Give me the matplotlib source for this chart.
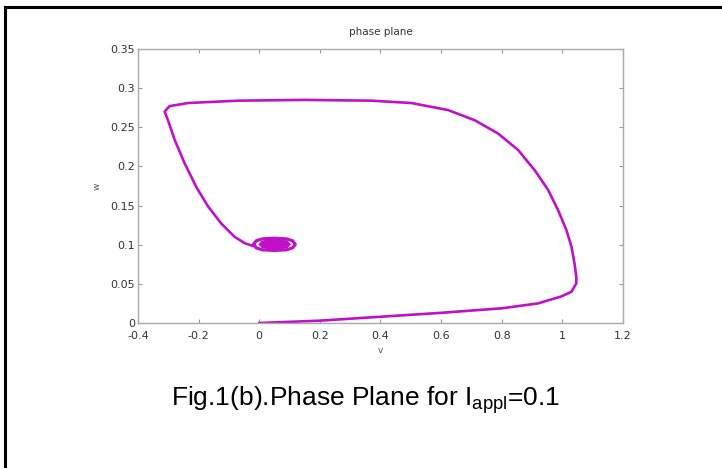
import matplotlib
matplotlib.use("Agg")
import matplotlib.pyplot as plt
from matplotlib.lines import Line2D

# trajectory (v, w)
v_path = [0.0, 0.2, 0.4, 0.6, 0.8, 0.919, 0.997, 1.03, 1.046, 1.046, 1.04,
          1.03, 1.013, 0.986, 0.953, 0.909, 0.854, 0.788, 0.711, 0.623,
          0.502, 0.370, 0.150, -0.070, -0.235, -0.296, -0.312, -0.301,
          -0.279, -0.246, -0.208, -0.169, -0.125, -0.081, -0.048, -0.021]
w_path = [0.0, 0.003, 0.008, 0.013, 0.0188, 0.025, 0.034, 0.040, 0.0507,
          0.059, 0.076, 0.0975, 0.119, 0.144, 0.170, 0.195, 0.221, 0.242,
          0.259, 0.272, 0.281, 0.284, 0.285, 0.284, 0.281, 0.277, 0.270,
          0.259, 0.234, 0.204, 0.174, 0.149, 0.127, 0.110, 0.102, 0.0984]

# small loops around the resting point (outer ring and the filled core)
v_loop1 = [-0.018, -0.010, 0.010, 0.050, 0.090, 0.110, 0.119, 0.110, 0.090,
           0.050, 0.010, -0.010, -0.018]
w_loop1 = [0.1005, 0.0960, 0.0935, 0.0927, 0.0935, 0.0960, 0.1005, 0.1050,
           0.1075, 0.1083, 0.1075, 0.1050, 0.1005]
v_core = [0.002, 0.010, 0.030, 0.051, 0.075, 0.092, 0.100, 0.092, 0.075,
          0.051, 0.030, 0.010, 0.002]
w_core = [0.1005, 0.0970, 0.0955, 0.0950, 0.0955, 0.0970, 0.1005, 0.1040,
          0.1055, 0.1060, 0.1055, 0.1040, 0.1005]

x_ticks = [-0.4, -0.2, 0, 0.2, 0.4, 0.6, 0.8, 1, 1.2]
x_labels = ["-0.4", "-0.2", "0", "0.2", "0.4", "0.6", "0.8", "1", "1.2"]
y_ticks = [0, 0.05, 0.1, 0.15, 0.2, 0.25, 0.3, 0.35]
y_labels = ["0", "0.05", "0.1", "0.15", "0.2", "0.25", "0.3", "0.35"]

col = "#C010C8"

fig = plt.figure(figsize=(7.22, 4.68), dpi=100)
ax = fig.add_axes([0.1911, 0.3098, 0.6718, 0.5855])

ax.plot(v_path, w_path, color=col, lw=1.9, solid_joinstyle="round")
ax.plot(v_loop1, w_loop1, color=col, lw=2.3)
ax.fill(v_core, w_core, color=col, lw=1.5)

ax.set_xlim(-0.4, 1.2)
ax.set_ylim(0, 0.35)
ax.set_xticks(x_ticks)
ax.set_xticklabels(x_labels)
ax.set_yticks(y_ticks)
ax.set_yticklabels(y_labels)
ax.tick_params(direction="in", top=True, right=True, length=3, width=0.8,
               color="#999999", labelsize=8, labelcolor="#333333")
ax.tick_params(axis="x", pad=6)
ax.tick_params(axis="y", pad=2)
for s in ax.spines.values():
    s.set_color("#aaaaaa")
    s.set_linewidth(1.0)

ax.set_title("phase plane", fontsize=7.5, color="#333333", pad=10)
ax.set_xlabel("v", fontsize=6.5, color="#555555", labelpad=3)
ax.set_ylabel("w", fontsize=6.5, color="#555555", labelpad=6)

# outer frame (top and left edge only)
fig.add_artist(Line2D([5 / 722, 1.0], [1 - 7 / 468, 1 - 7 / 468],
                      transform=fig.transFigure, color="black", lw=2.2))
fig.add_artist(Line2D([5 / 722, 5 / 722], [0.0, 1 - 7 / 468],
                      transform=fig.transFigure, color="black", lw=2.2))

plt.rcParams["mathtext.fontset"] = "custom"
plt.rcParams["mathtext.rm"] = "Liberation Sans"
fig.text(366 / 722, 1 - 405 / 468, r"Fig.1(b).Phase Plane for I$_{\mathrm{appl}}$=0.1",
         ha="center", va="baseline", fontsize=19, family="Liberation Sans")

fig.savefig("out.png", dpi=100)
